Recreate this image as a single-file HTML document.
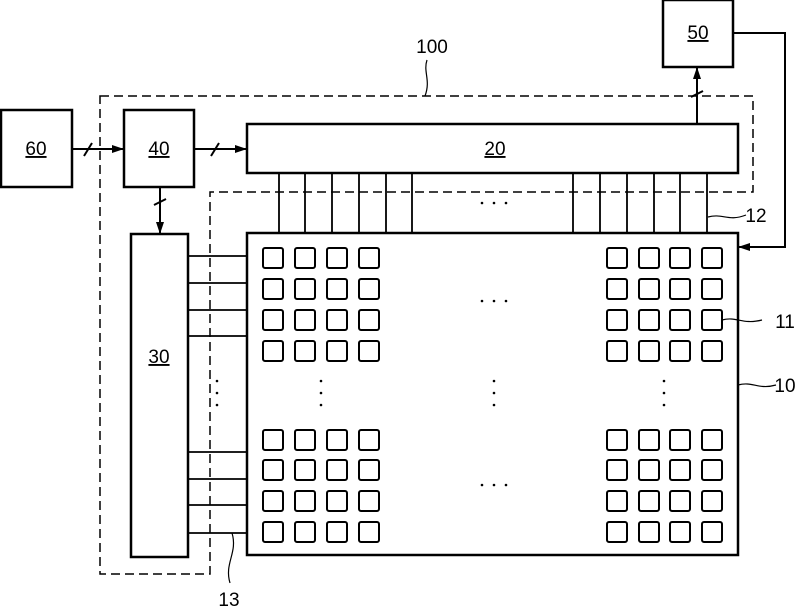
<!DOCTYPE html>
<html><head><style>body{margin:0;background:#fff}svg{display:block}text{font-family:"Liberation Sans",sans-serif;font-size:19px}</style></head><body>
<svg width="799" height="607" viewBox="0 0 799 607" xmlns="http://www.w3.org/2000/svg">
<defs><marker id="a" markerWidth="12" markerHeight="8" refX="12" refY="4" orient="auto" markerUnits="userSpaceOnUse"><path d="M0,0L12,4L0,8Z" fill="#000"/></marker>
<g id="r"><rect x="263" y="0" width="20" height="20" rx="2"/><rect x="295" y="0" width="20" height="20" rx="2"/><rect x="327" y="0" width="20" height="20" rx="2"/><rect x="359" y="0" width="20" height="20" rx="2"/><rect x="607" y="0" width="20" height="20" rx="2"/><rect x="639" y="0" width="20" height="20" rx="2"/><rect x="670" y="0" width="20" height="20" rx="2"/><rect x="702" y="0" width="20" height="20" rx="2"/></g>
<g id="v"><circle cx="0" cy="381" r="1.3"/><circle cx="0" cy="393" r="1.3"/><circle cx="0" cy="405" r="1.3"/></g>
</defs>
<g fill="none" stroke="#000">
<path d="M100,96H753V192H210V574H100Z" stroke-dasharray="9,5" stroke-width="1.5"/>
<g stroke-width="2.5">
<rect x="1" y="110" width="71" height="77"/>
<rect x="124" y="110" width="70" height="77"/>
<rect x="247" y="124" width="491" height="49"/>
<rect x="663" y="0" width="70" height="67"/>
<rect x="131" y="234" width="57" height="323"/>
<rect x="247" y="233" width="491" height="322"/>
</g>
<g stroke-width="2">
<path d="M72,149H124" marker-end="url(#a)"/>
<path d="M194,149H247" marker-end="url(#a)"/>
<path d="M160,187V234" marker-end="url(#a)"/>
<path d="M697,124V67" marker-end="url(#a)"/>
<path d="M733,33H785V247H738" marker-end="url(#a)"/>
<path d="M84,156l8,-13M211,156l8,-13M154,205l12,-6M691,97l12,-6"/>
</g>
<g stroke-width="1.8">
<path d="M279,173V233M305,173V233M332,173V233M359,173V233M386,173V233M412,173V233M573,173V233M600,173V233M627,173V233M654,173V233M680,173V233M707,173V233"/>
<path d="M188,256H247M188,283H247M188,310H247M188,336H247M188,452H247M188,479H247M188,505H247M188,533H247"/>
</g>
<g stroke-width="1.2">
<path d="M427,60c-4,12 4,20 -2,36"/>
<path d="M708,217c15,-4 20,5 38,-2"/>
<path d="M722,320c15,-4 20,5 40,0"/>
<path d="M738,385c15,-4 20,5 38,0"/>
<path d="M232,533c6,20 -8,30 -2,50"/>
</g>
</g>
<g fill="none" stroke="#000" stroke-width="2">
<use href="#r" y="248"/><use href="#r" y="279"/><use href="#r" y="310"/><use href="#r" y="341"/>
<use href="#r" y="430"/><use href="#r" y="460"/><use href="#r" y="491"/><use href="#r" y="522"/>
</g>
<g fill="#000">
<circle cx="482" cy="203" r="1.3"/><circle cx="494" cy="203" r="1.3"/><circle cx="506" cy="203" r="1.3"/>
<circle cx="482" cy="301" r="1.3"/><circle cx="494" cy="301" r="1.3"/><circle cx="506" cy="301" r="1.3"/>
<circle cx="482" cy="485" r="1.3"/><circle cx="494" cy="485" r="1.3"/><circle cx="506" cy="485" r="1.3"/>
<use href="#v" x="217"/><use href="#v" x="321"/><use href="#v" x="494"/><use href="#v" x="664"/>
</g>
<g text-anchor="middle" fill="#000">
<text x="36" y="155" text-decoration="underline">60</text>
<text x="159" y="155" text-decoration="underline">40</text>
<text x="495" y="155" text-decoration="underline">20</text>
<text x="698" y="39" text-decoration="underline">50</text>
<text x="159" y="363" text-decoration="underline">30</text>
<text x="432" y="53">100</text>
<text x="756" y="222">12</text>
<text x="785" y="328">11</text>
<text x="785" y="392">10</text>
<text x="229" y="606">13</text>
</g>
</svg>
</body></html>
